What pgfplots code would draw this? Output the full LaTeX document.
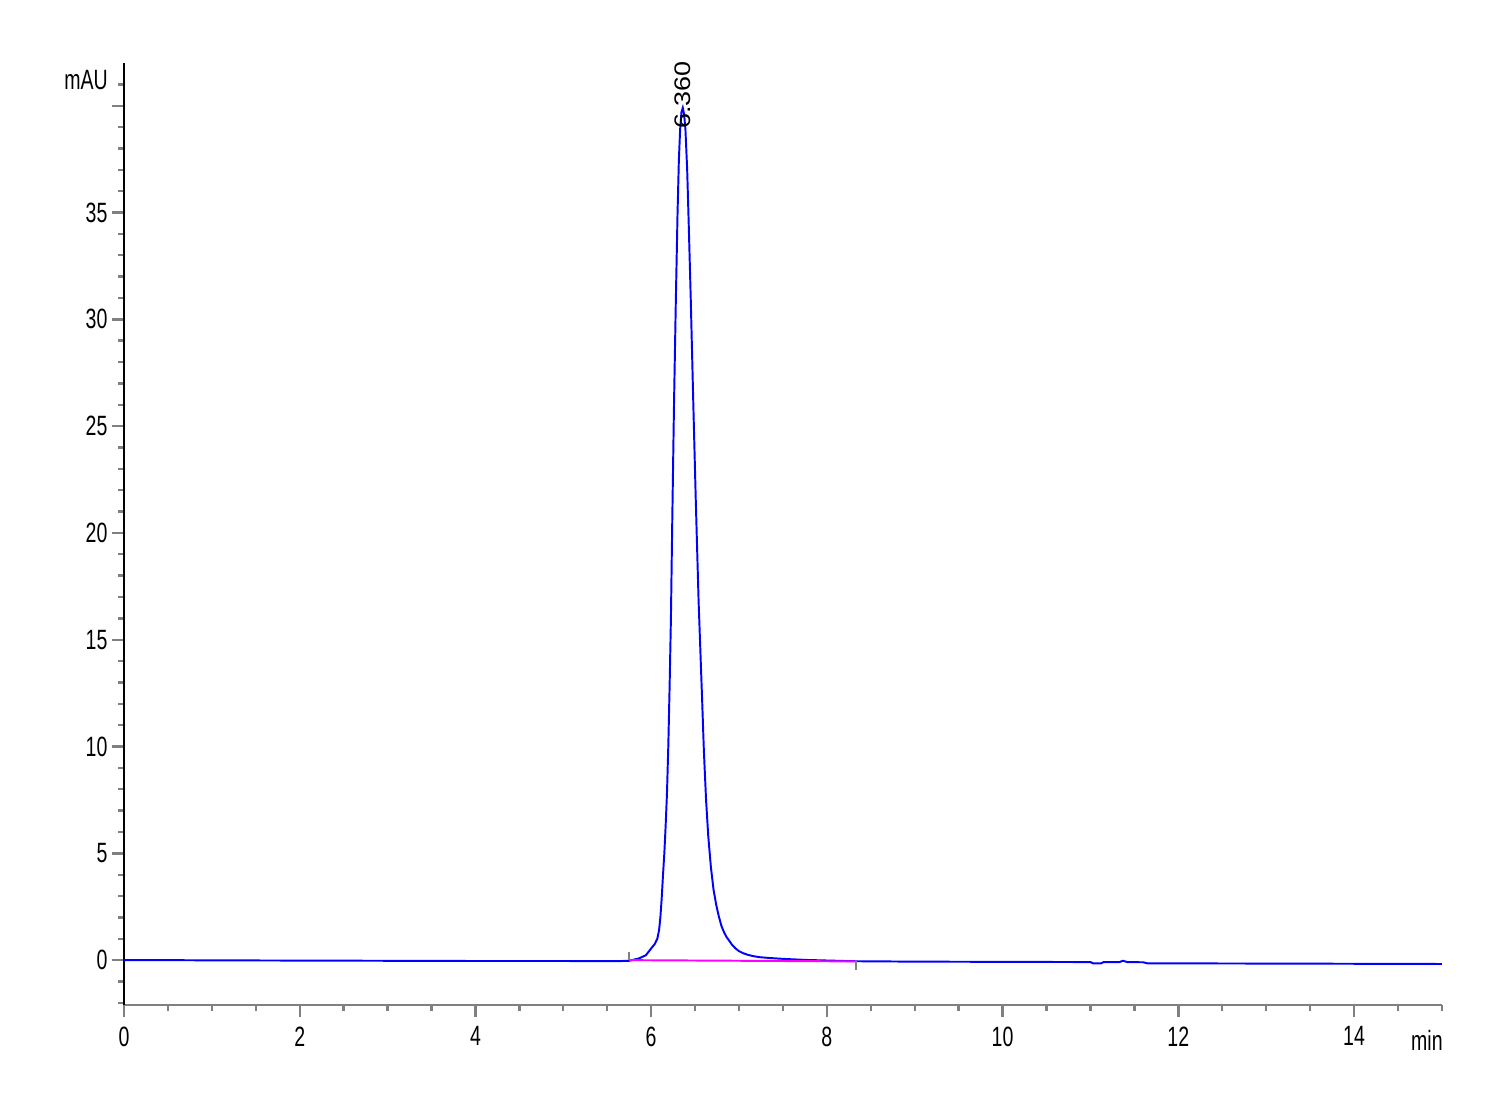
\documentclass[border=0pt]{standalone}
\usepackage{fontspec}
\setmainfont{Liberation Sans}[FakeStretch=0.7]
\newfontfamily\peakfont{Liberation Sans}[FakeStretch=1.2]
\usepackage{pgfplots}
\pgfplotsset{compat=1.18}
\definecolor{tickgray}{RGB}{128,128,128}
\definecolor{chromblue}{RGB}{0,0,255}
\definecolor{basemag}{RGB}{255,0,255}
\begin{document}
\begin{tikzpicture}
\begin{axis}[
  at={(0,0)}, anchor=south west,
  scale only axis,
  width=439.3pt, height=314pt,
  xmin=0, xmax=15, ymin=-2.1, ymax=42,
  axis x line=bottom, axis y line=left,
  x axis line style={-, tickgray, line width=0.9pt},
  y axis line style={-, black, line width=0.7pt},
  tick align=outside,
  major tick length=4pt, minor tick length=2pt,
  every tick/.style={tickgray, line width=0.8pt},
  xtick={0,2,...,14},
  minor xtick={0,0.5,...,15},
  ytick={0,5,...,40},
  yticklabels={0,5,10,15,20,25,30,35,{}},
  minor ytick={-2,-1,...,41},
  tick label style={font=\fontsize{9.3}{11}\selectfont, text=black},
  /pgf/number format/assume math mode=true,
  xticklabel style={yshift=0.3pt},
  yticklabel style={xshift=2pt},
  clip=false,
]
% main chromatogram trace
\addplot[chromblue, line width=0.65pt] coordinates {
(0,0.0) (0.5,0.0) (1,-0.01) (2,-0.02) (3,-0.03) (4,-0.04) (5,-0.04) (5.6,-0.05)
(5.75,-0.03) (5.86,0.08) (5.94,0.23) (6.01,0.6) (6.04,0.75) (6.07,1.0)
(6.09,1.4) (6.105,2.0) (6.12,2.9) (6.135,4.0) (6.15,5.0) (6.165,6.3)
(6.18,7.8) (6.195,10.0) (6.21,12.8) (6.225,16.0) (6.24,20.5) (6.26,26.0)
(6.281,30.9) (6.30,34.9) (6.315,37.4) (6.33,38.9) (6.345,39.7) (6.36,39.9)
(6.375,39.6) (6.39,38.9) (6.41,37.0) (6.43,34.1) (6.451,30.9) (6.48,26.0)
(6.508,21.5) (6.54,16.8) (6.58,12.2) (6.60,9.8) (6.625,7.5) (6.65,5.8)
(6.68,4.35) (6.71,3.3) (6.74,2.6) (6.77,2.05) (6.80,1.6) (6.83,1.3)
(6.86,1.07) (6.89,0.9) (6.92,0.72) (6.96,0.55) (7.0,0.42) (7.05,0.32)
(7.1,0.25) (7.16,0.19) (7.23,0.14) (7.35,0.1) (7.5,0.06) (7.76,0.01)
(8.3,-0.05) (9,-0.07) (10,-0.08) (11.0,-0.09) (11.03,-0.15) (11.12,-0.15)
(11.15,-0.09) (11.33,-0.09) (11.37,-0.03) (11.42,-0.09) (11.6,-0.1)
(11.65,-0.15) (13,-0.16) (15,-0.18)
};
% integration baseline
\addplot[basemag, line width=0.65pt] coordinates {(5.75,0.0) (8.33,-0.06)};
% integration start / end markers
\addplot[tickgray, line width=0.8pt] coordinates {(5.75,0.0) (5.75,0.4)};
\addplot[tickgray, line width=0.8pt] coordinates {(8.33,-0.06) (8.33,-0.45)};
% peak label
\node[rotate=90, anchor=west, inner sep=0pt, font=\peakfont\fontsize{7.5}{9}\selectfont]
  at (axis cs:6.36,38.9) {6.360};
\node[font=\fontsize{9.3}{11}\selectfont] at (rel axis cs:-0.0288,0.982) {mAU};
\node[font=\fontsize{9.3}{11}\selectfont] at (rel axis cs:0.9886,-0.038) {min};
\end{axis}
\useasboundingbox (-41.33pt,-31.67pt) rectangle (458.67pt,335pt);
\end{tikzpicture}
\end{document}
